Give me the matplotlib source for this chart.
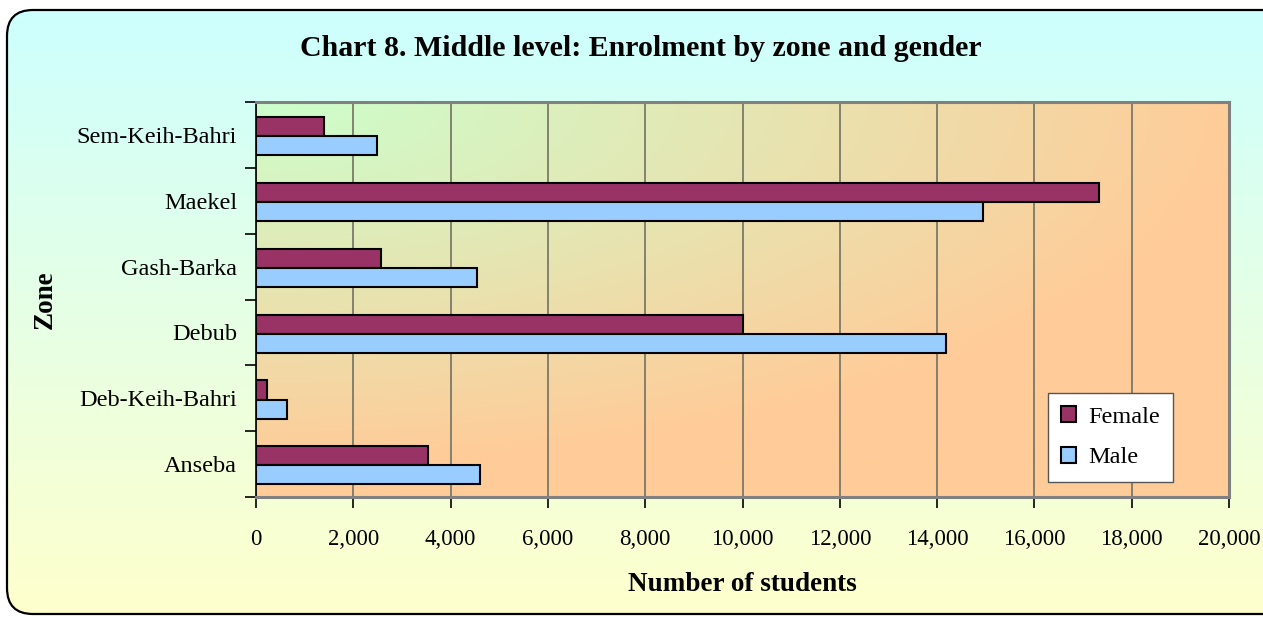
import numpy as np
import matplotlib
matplotlib.use("Agg")
import matplotlib.pyplot as plt
from matplotlib.patches import FancyBboxPatch
from matplotlib.ticker import FixedLocator, NullFormatter, FuncFormatter

# ---- data ----
zones = ["Sem-Keih-Bahri", "Maekel", "Gash-Barka", "Debub", "Deb-Keih-Bahri", "Anseba"]
female = [1400, 17330, 2570, 10000, 230, 3530]
male = [2480, 14940, 4540, 14180, 630, 4610]
series_names = ["Female", "Male"]
x_ticks = list(range(0, 20001, 2000))

title = "Chart 8. Middle level: Enrolment by zone and gender"
xlabel = "Number of students"
ylabel = "Zone"

female_color = "#993366"
male_color = "#99CCFF"

W, H = 1263, 618
fig = plt.figure(figsize=(W / 100, H / 100), dpi=100)
fig.patch.set_facecolor("white")

serif = ["Liberation Serif", "DejaVu Serif"]

# ---- background with rounded border ----
bg = fig.add_axes([0, 0, 1, 1], zorder=-10)
bg.set_xlim(0, W)
bg.set_ylim(H, 0)
bg.axis("off")
c_top = np.array([0xCC, 0xFF, 0xFF]) / 255
c_bot = np.array([0xFF, 0xFF, 0xCC]) / 255
t = np.linspace(0, 1, 256)[:, None]
grad = c_top[None, None, :] * (1 - t[..., None]) + c_bot[None, None, :] * t[..., None]
grad = np.repeat(grad, 2, axis=1)
im = bg.imshow(grad, extent=[0, W, H, 0], aspect="auto", interpolation="bilinear")
box = FancyBboxPatch((7, 10), 1300, 604, boxstyle="round,pad=0,rounding_size=26",
                     facecolor="none", edgecolor="black", linewidth=1.6)
bg.add_patch(box)
im.set_clip_path(box)

# ---- main axes ----
L, R, T, B = 256, 1229, 102, 497
ax = fig.add_axes([L / W, 1 - B / H, (R - L) / W, (B - T) / H])
ax.set_facecolor("none")

# plot area gradient (top-left green -> bottom-right peach)
c1 = np.array([0xCC, 0xFF, 0xCC]) / 255
c2 = np.array([0xFF, 0xCC, 0x99]) / 255
u = np.linspace(0, 1, 300)[None, :]
v = np.linspace(0, 1, 200)[:, None]
tt = np.clip(np.sqrt((u * 1.0) ** 2 + (v * 1.1) ** 2), 0, 1)
pg = c1[None, None, :] * (1 - tt[..., None]) + c2[None, None, :] * tt[..., None]
ax.imshow(pg, extent=[0, 1, 0, 1], transform=ax.transAxes, aspect="auto",
          zorder=0, interpolation="bilinear")

y = np.arange(len(zones))
h = 0.29
off = 0.02
ax.barh(y - h / 2 + off, female, height=h, color=female_color, edgecolor="black",
        linewidth=1.5, label=series_names[0], zorder=3)
ax.barh(y + h / 2 + off, male, height=h, color=male_color, edgecolor="black",
        linewidth=1.5, label=series_names[1], zorder=3)

ax.set_xlim(0, 20000)
ax.set_ylim(len(zones) - 0.5, -0.5)

ax.xaxis.set_major_locator(FixedLocator(x_ticks))
ax.xaxis.set_major_formatter(FuncFormatter(lambda val, pos: f"{int(val):,}"))
ax.grid(axis="x", color="#7a7a6a", linewidth=1.3, zorder=1)
ax.set_axisbelow(False)

ax.yaxis.set_major_locator(FixedLocator(np.arange(-0.5, len(zones), 1.0)))
ax.yaxis.set_major_formatter(NullFormatter())
ax.yaxis.set_minor_locator(FixedLocator(y))
ax.set_yticklabels(zones, minor=True)
ax.tick_params(axis="y", which="major", direction="out", length=8, width=1.2, color="black")
ax.tick_params(axis="y", which="minor", length=0, pad=13.5)
ax.tick_params(axis="x", which="major", direction="out", length=8, width=1.2, color="black", pad=15)

for lab in ax.get_xticklabels():
    lab.set_fontfamily(serif)
    lab.set_fontsize(16.5)
for lab in ax.get_yticklabels(minor=True):
    lab.set_fontfamily(serif)
    lab.set_fontsize(17.5)

for s in ["top", "right", "bottom"]:
    ax.spines[s].set_color("#808080")
    ax.spines[s].set_linewidth(2.2)
ax.spines["left"].set_color("black")
ax.spines["left"].set_linewidth(1.2)
for sp in ax.spines.values():
    sp.set_zorder(4)

ax.set_xlabel(xlabel, fontfamily=serif, fontsize=19.5, fontweight="bold", labelpad=16)
ax.set_ylabel(ylabel, fontfamily=serif, fontsize=19.5, fontweight="bold", labelpad=14)

fig.text(641 / W, 1 - 48 / H, title, ha="center", va="center", fontfamily=serif,
         fontsize=21.5, fontweight="bold")

leg = ax.legend(loc="upper right", bbox_to_anchor=((1173 - L) / (R - L), (B - 393) / (B - T)),
                borderaxespad=0, frameon=True, fancybox=False, framealpha=1,
                prop={"family": serif, "size": 17.5}, handlelength=0.6, handleheight=0.6,
                handletextpad=0.5, labelspacing=0.8, borderpad=0.55)
leg.get_frame().set_edgecolor("#555555")
leg.get_frame().set_linewidth(1.0)
leg.set_zorder(6)

fig.savefig("out.png", dpi=100)
